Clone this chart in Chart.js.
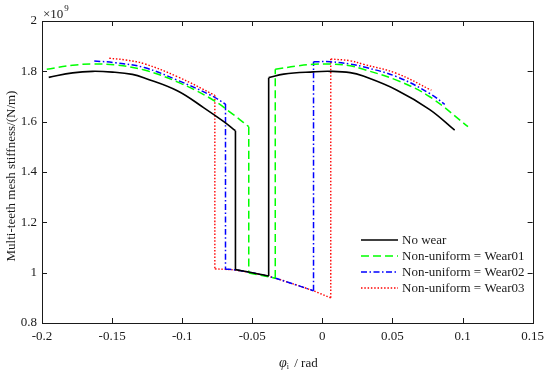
<!DOCTYPE html>
<html>
<head>
<meta charset="utf-8">
<script src="https://cdn.jsdelivr.net/npm/chart.js@4/dist/chart.umd.min.js"></script>
<style>
  html, body { margin: 0; padding: 0; background: #fff; }
  #wrap { width: 550px; height: 378px; }
</style>
</head>
<body>
<div id="wrap"><canvas id="c" width="550" height="378"></canvas></div>
<script>
// ---- data (stiffness in units of 1e9 N/m) ----
const seriesNames = ['No wear', 'Non-uniform = Wear01', 'Non-uniform = Wear02', 'Non-uniform = Wear03'];

const noWearX = [-0.1952,-0.1781,-0.1639,-0.1497,-0.1355,-0.1265,-0.1035,-0.0845,-0.0703,-0.062,
                 -0.062,-0.050,-0.0383,
                 -0.0383,-0.0276,-0.0063,0.0055,0.0198,0.0292,0.0529,0.0766,0.0944];
const noWearY = [1.776,1.794,1.800,1.797,1.788,1.773,1.723,1.655,1.600,1.564,
                 1.012,1.000,0.987,
                 1.775,1.789,1.798,1.800,1.795,1.781,1.726,1.648,1.566];

const wear01X = [-0.1966,-0.1781,-0.1639,-0.1473,-0.127,-0.1035,-0.0797,-0.0632,-0.0525,
                 -0.0525,-0.0336,
                 -0.0336,-0.0182,-0.0063,0.0055,0.0198,0.0292,0.0529,0.0766,0.1039];
const wear01Y = [1.808,1.824,1.829,1.825,1.805,1.758,1.692,1.627,1.580,
                 0.999,0.978,
                 1.808,1.821,1.828,1.829,1.822,1.808,1.765,1.699,1.580];

const wear02X = [-0.1627,-0.1473,-0.127,-0.1035,-0.0797,-0.0691,
                 -0.0691,-0.062,-0.0383,-0.0218,-0.0063,
                 -0.0063,0.0055,0.0198,0.0292,0.0529,0.0766,0.0873];
const wear02Y = [1.841,1.834,1.815,1.765,1.705,1.670,
                 1.014,1.011,0.985,0.957,0.928,
                 1.838,1.838,1.829,1.818,1.779,1.712,1.669];

const wear03X = [-0.152,-0.1402,-0.127,-0.1035,-0.0767,
                 -0.0767,-0.0691,-0.062,-0.0383,-0.0218,-0.0075,0.006,
                 0.006,0.0198,0.0292,0.0529,0.0778];
const wear03Y = [1.852,1.845,1.830,1.779,1.705,
                 1.015,1.013,1.010,0.985,0.957,0.930,0.900,
                 1.849,1.842,1.828,1.792,1.725];

const xTickValues = [-0.2,-0.15,-0.1,-0.05,0,0.05,0.1,0.15];
const xTickLabels = ['-0.2','-0.15','-0.1','-0.05','0','0.05','0.1','0.15'];
const yTickValues = [0.8,1,1.2,1.4,1.6,1.8,2];
const yTickLabels = ['0.8','1','1.2','1.4','1.6','1.8','2'];

// ---- styles ----
const colors = ['#000000', '#00ff00', '#0000ff', '#ff0000'];
const dashes = [[], [8,4], [6,2.5,1.5,2.5], [1.5,1.8]];
const widths = [1.6, 1.5, 1.5, 1.4];

const allX = [noWearX, wear01X, wear02X, wear03X];
const allY = [noWearY, wear01Y, wear02Y, wear03Y];

// split each series into pieces at vertical jumps (repeated x), so each piece can be smoothed
function pieces(xs, ys) {
  const out = [];
  let cur = [{x: xs[0], y: ys[0]}];
  for (let i = 1; i < xs.length; i++) {
    if (xs[i] === xs[i - 1]) {
      out.push(cur);
      out.push([{x: xs[i - 1], y: ys[i - 1]}, {x: xs[i], y: ys[i]}]);
      cur = [{x: xs[i], y: ys[i]}];
    } else {
      cur.push({x: xs[i], y: ys[i]});
    }
  }
  out.push(cur);
  return out;
}

const datasets = [];
seriesNames.forEach((name, i) => {
  pieces(allX[i], allY[i]).forEach((pts, j) => {
    datasets.push({
      label: name,
      first: j === 0,
      data: pts,
      borderColor: colors[i],
      borderWidth: widths[i],
      borderDash: dashes[i],
      pointRadius: 0,
      tension: 0.4,
      fill: false
    });
  });
});

const FONT = 'Liberation Serif';
const TXT = '#1a1a1a';
Chart.defaults.font.family = FONT;
Chart.defaults.font.size = 13;
Chart.defaults.color = TXT;

const deco = {
  id: 'deco',
  afterDraw(chart) {
    const ctx = chart.ctx;
    const a = chart.chartArea;
    const xs = chart.scales.x, ys = chart.scales.y;
    ctx.save();
    // frame
    ctx.strokeStyle = '#1a1a1a';
    ctx.lineWidth = 1;
    ctx.setLineDash([]);
    ctx.strokeRect(Math.round(a.left) + 0.5, Math.round(a.top) + 0.5,
                   Math.round(a.right - a.left), Math.round(a.bottom - a.top));
    const TL = 5;
    ctx.beginPath();
    xTickValues.forEach(v => {
      const px = Math.round(xs.getPixelForValue(v)) + 0.5;
      ctx.moveTo(px, a.bottom); ctx.lineTo(px, a.bottom - TL);
      ctx.moveTo(px, a.top); ctx.lineTo(px, a.top + TL);
    });
    yTickValues.forEach(v => {
      const py = Math.round(ys.getPixelForValue(v)) + 0.5;
      ctx.moveTo(a.left, py); ctx.lineTo(a.left + TL, py);
      ctx.moveTo(a.right, py); ctx.lineTo(a.right - TL, py);
    });
    ctx.stroke();

    // x10^9
    ctx.fillStyle = TXT;
    ctx.textBaseline = 'alphabetic';
    ctx.textAlign = 'left';
    ctx.font = '13px "' + FONT + '"';
    ctx.fillText('\u00d710', 43, 18);
    const w10 = ctx.measureText('\u00d710').width;
    ctx.font = '9px "' + FONT + '"';
    ctx.fillText('9', 43 + w10 + 1, 11);

    // y title
    ctx.save();
    ctx.translate(12, 176);
    ctx.rotate(-Math.PI / 2);
    ctx.font = '13px "' + FONT + '"';
    ctx.textAlign = 'center';
    ctx.textBaseline = 'middle';
    ctx.fillText('Multi-teeth mesh stiffness/(N/m)', 0, 0);
    ctx.restore();

    // x title: φ_i / rad
    ctx.textBaseline = 'alphabetic';
    ctx.textAlign = 'left';
    let tx = 279, ty = 367;
    ctx.font = 'italic 14px "' + FONT + '"';
    ctx.fillText('\u03c6', tx, ty);
    tx += ctx.measureText('\u03c6').width;
    ctx.font = '8px "' + FONT + '"';
    ctx.fillText('i', tx, ty + 2);
    tx += ctx.measureText('i').width + 2;
    ctx.font = '13px "' + FONT + '"';
    ctx.fillText(' / rad', tx, ty);

    // legend
    const lx0 = 361, lx1 = 398, tx0 = 402;
    const rows = [240, 256, 272, 288];
    chart.data.datasets.filter(d => d.first).forEach((d, i) => {
      const y = rows[i];
      ctx.beginPath();
      ctx.strokeStyle = d.borderColor;
      ctx.lineWidth = d.borderWidth;
      ctx.setLineDash(d.borderDash);
      ctx.moveTo(lx0, y); ctx.lineTo(lx1, y);
      ctx.stroke();
      ctx.setLineDash([]);
      ctx.fillStyle = TXT;
      ctx.font = '13px "' + FONT + '"';
      ctx.textBaseline = 'middle';
      ctx.fillText(d.label, tx0, y + 0.5);
    });
    ctx.restore();
  }
};

new Chart(document.getElementById('c'), {
  type: 'line',
  data: { datasets: datasets },
  options: {
    responsive: false,
    animation: false,
    events: [],
    layout: { padding: { top: 21, right: 15, left: 0, bottom: 0 } },
    plugins: { legend: { display: false }, tooltip: { enabled: false } },
    scales: {
      x: {
        type: 'linear',
        min: -0.2, max: 0.15,
        afterFit: s => { s.height = 55; },
        afterBuildTicks: s => { s.ticks = xTickValues.map(v => ({value: v})); },
        grid: { display: false, drawTicks: false },
        border: { display: false },
        ticks: {
          padding: 6,
          maxRotation: 0,
          autoSkip: false,
          callback: (v) => { const k = xTickValues.findIndex(t => Math.abs(t - v) < 1e-9); return k >= 0 ? xTickLabels[k] : ''; }
        }
      },
      y: {
        type: 'linear',
        min: 0.8, max: 2,
        afterFit: s => { s.width = 42; },
        afterBuildTicks: s => { s.ticks = yTickValues.map(v => ({value: v})); },
        grid: { display: false, drawTicks: false },
        border: { display: false },
        ticks: {
          padding: 5,
          autoSkip: false,
          callback: (v) => { const k = yTickValues.findIndex(t => Math.abs(t - v) < 1e-9); return k >= 0 ? yTickLabels[k] : ''; }
        }
      }
    }
  },
  plugins: [deco]
});
</script>
</body>
</html>
